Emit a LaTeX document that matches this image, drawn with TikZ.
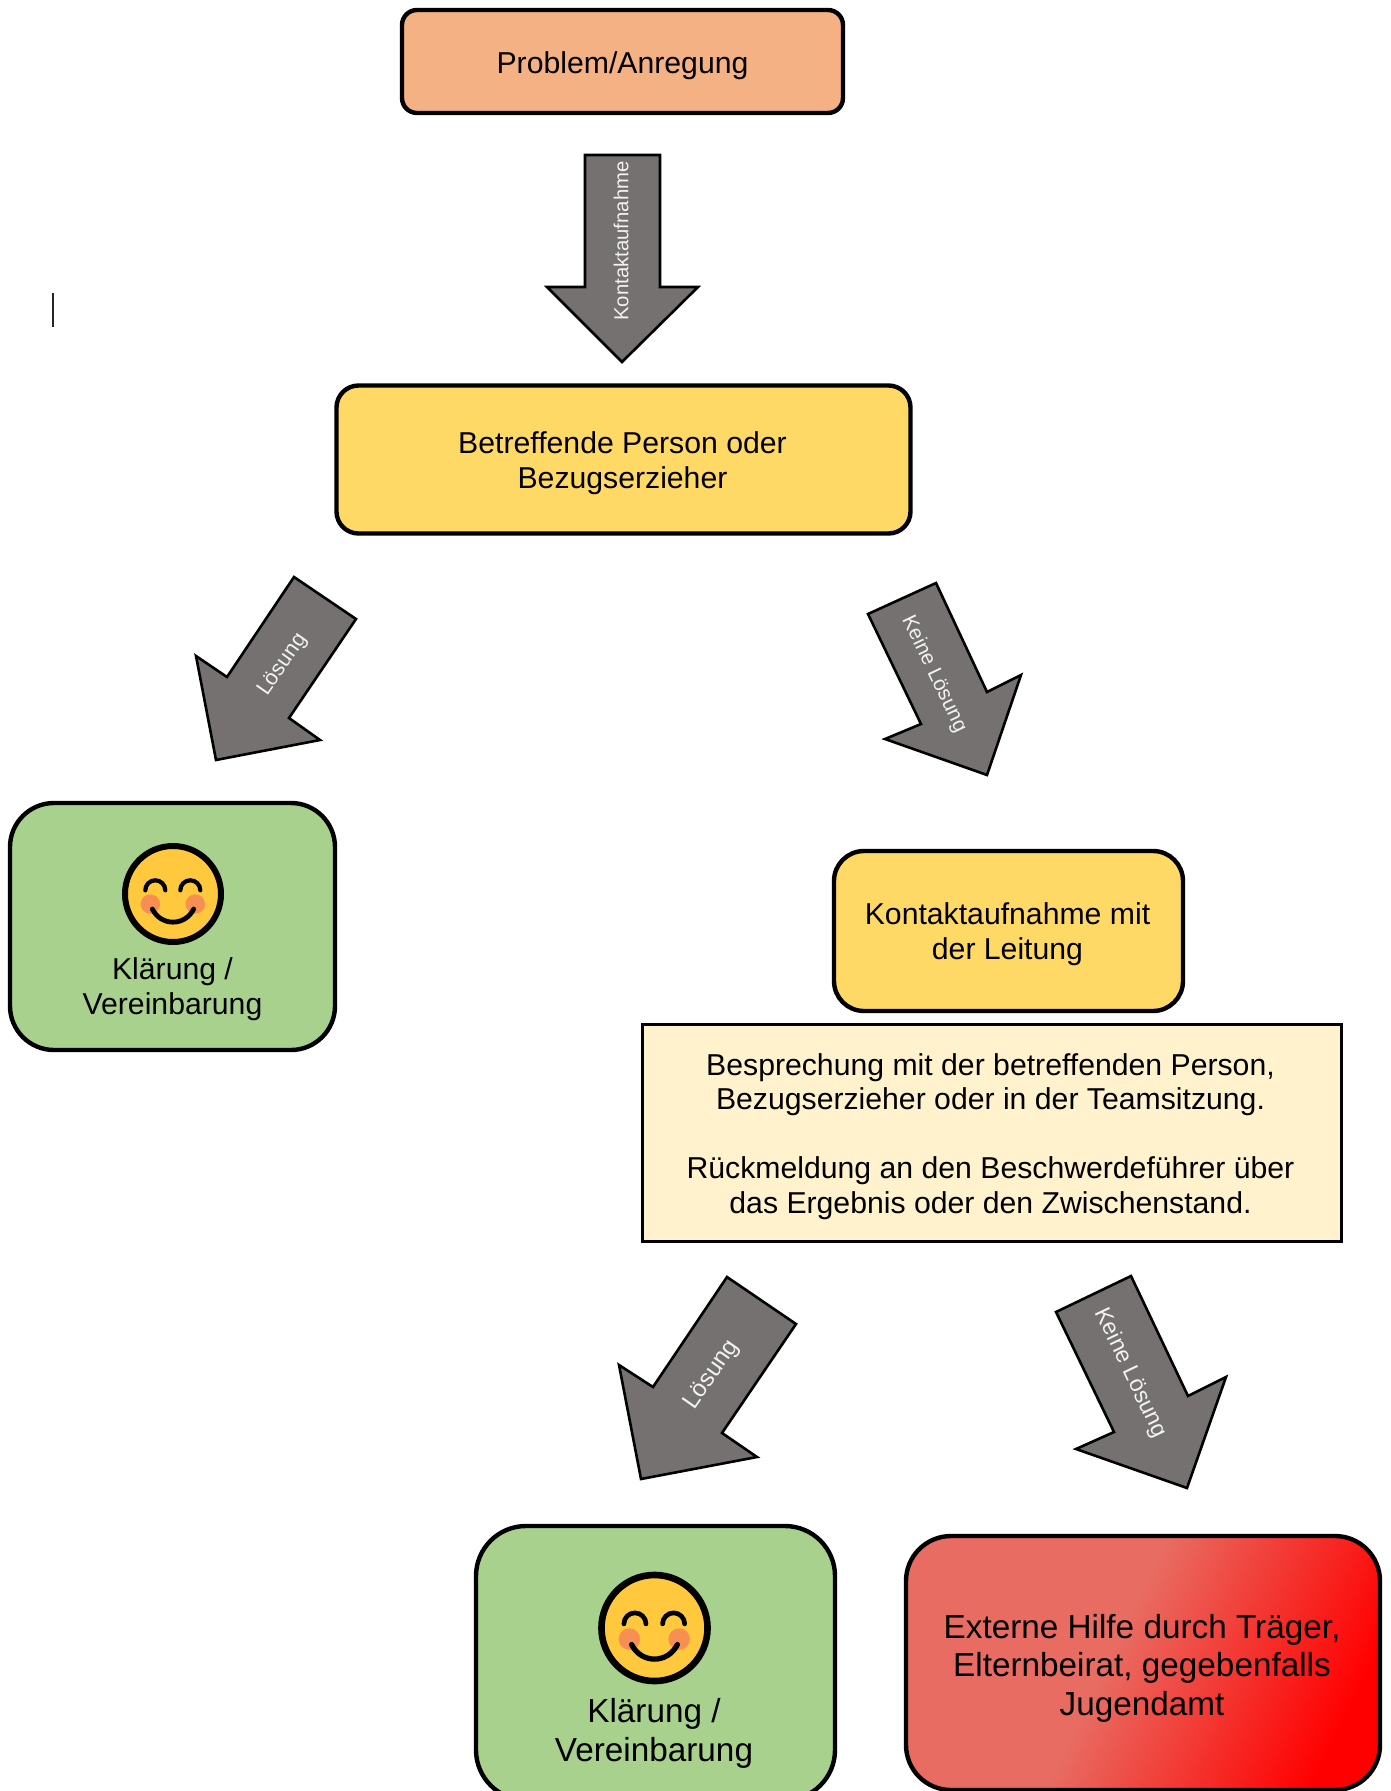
\documentclass[tikz,border=0pt]{standalone}
\usepackage{fontspec}
\setmainfont{Liberation Sans}
\definecolor{orangefill}{HTML}{F4B183}
\definecolor{yellowfill}{HTML}{FFD966}
\definecolor{greenfill}{HTML}{A9D18E}
\definecolor{notefill}{HTML}{FFF2CC}
\definecolor{redbase}{HTML}{E86C62}
\definecolor{arrowfill}{HTML}{757171}
\definecolor{arrowtext}{HTML}{F2F2F2}
\definecolor{smileyfill}{HTML}{FFC83D}
\definecolor{cheekfill}{HTML}{F78F52}
\tikzset{
  x=1pt,y=-1pt,
  boxshape/.style={draw=black,line width=4.4pt,rounded corners=#1,rectangle,inner sep=0pt},
  notebox/.style={draw=black,line width=3pt,fill=notefill,rectangle,inner sep=0pt},
  textlabel/.style={inner sep=0pt,align=center,text=black},
  bodytext/.style={textlabel,font=\fontsize{30.2}{34.5}\selectfont},
  bigtext/.style={textlabel,font=\fontsize{33.3}{39}\selectfont},
  redtext/.style={textlabel,font=\fontsize{33.3}{38.5}\selectfont},
  blockarrow/.style={draw=black,line width=2.6pt,fill=arrowfill,line join=miter},
  arrowlabel/.style={inner sep=0pt,text=arrowtext,font=\fontsize{#1}{#1}\selectfont},
}
\newcommand{\smileyface}[3]{%
  \begin{scope}[shift={(#1,#2)},x=#3pt,y=-#3pt]
    \draw[draw=black,fill=smileyfill,line width=#3*6pt] (0,0) circle (48);
    \fill[cheekfill] (-22.7,10) circle (9.7);
    \fill[cheekfill] (22.3,10) circle (9.7);
    \draw[line width=#3*4.2pt,line cap=round] (-27.7,-3.7) arc[start angle=180,end angle=0,x radius=10,y radius=-10];
    \draw[line width=#3*4.2pt,line cap=round] (7.3,-3.7) arc[start angle=180,end angle=0,x radius=10,y radius=-10];
    \draw[line width=#3*4.8pt,line cap=round] (-20.7,15) .. controls (-12,32.5) and (12,32.5) .. (20.7,15);
  \end{scope}}
\begin{document}
\begin{tikzpicture}
\useasboundingbox (0,0) rectangle (1391,1791);
% boxes
\node[boxshape=15pt,fill=orangefill,minimum width=441pt,minimum height=103pt] (problem) at (622.5,61.5) {};
\node[bodytext] (problemtext) at (622.5,66) {Problem/Anregung};
\node[boxshape=22pt,fill=yellowfill,minimum width=574pt,minimum height=148pt] (person) at (623.5,459.5) {};
\node[bodytext] (persontext) at (622.5,463) {Betreffende Person oder\\Bezugserzieher};
\node[boxshape=44pt,fill=greenfill,minimum width=325pt,minimum height=247pt] (green1) at (172.5,926.5) {};
\node[bodytext] (green1text) at (172.5,989) {Klärung /\\Vereinbarung};
\node[boxshape=30pt,fill=yellowfill,minimum width=349pt,minimum height=160pt] (leitung) at (1008.5,931) {};
\node[bodytext] (leitungtext) at (1007.5,934) {Kontaktaufnahme mit\\der Leitung};
\node[notebox,minimum width=699pt,minimum height=217pt] (note) at (991.5,1132.5) {};
\node[bodytext] (notetext) at (990.5,1136.5) {Besprechung mit der betreffenden Person,\\Bezugserzieher oder in der Teamsitzung.\\[34.5pt]Rückmeldung an den Beschwerdeführer über\\das Ergebnis oder den Zwischenstand.};
\node[boxshape=50pt,fill=greenfill,minimum width=359pt,minimum height=274pt] (green2) at (655.5,1663) {};
\node[bigtext] (green2text) at (654,1733) {Klärung /\\Vereinbarung};
% red box with its diagonal gradient
\begin{scope}
  \clip[rounded corners=45pt] (906,1536) rectangle (1380,1790);
  \fill[redbase] (906,1536) rectangle (1380,1790);
  \begin{scope}[transform canvas={shift={(1143,1662)},rotate=-26}]
    \fill[red] (204,-500) rectangle (700,500);
    \shade[left color=redbase,right color=red] (-32,-500) rectangle (205,500);
  \end{scope}
\end{scope}
\node[boxshape=45pt,minimum width=474pt,minimum height=254pt] (external) at (1143,1663) {};
\node[redtext] (externaltext) at (1142,1668) {Externe Hilfe durch Träger,\\Elternbeirat, gegebenfalls\\Jugendamt};
% smileys
\smileyface{173}{894}{1}
\smileyface{654.5}{1628}{1.105}
% block arrows
\draw[blockarrow] (585,155) -- (660,155) -- (660,287) -- (698,287) -- (622,362) -- (547,287) -- (585,287) -- cycle;
\node[arrowlabel=20.3,rotate=90] (a1text) at (621,241) {Kontaktaufnahme};
\draw[blockarrow] (294,577) -- (356,619) -- (289,718) -- (320,740) -- (216,760) -- (196,656) -- (227,677) -- cycle;
\node[arrowlabel=21.5,rotate=55] (a2text) at (283,665) {Lösung};
\draw[blockarrow] (936,583) -- (868,614) -- (921,724) -- (885,739) -- (987,775) -- (1021,675) -- (987,692) -- cycle;
\node[arrowlabel=20.7,rotate=-64.5] (a3text) at (934,674) {Keine Lösung};
\draw[blockarrow] (727,1277) -- (796,1324) -- (722,1433) -- (757,1457) -- (641,1479) -- (619,1365) -- (653,1387) -- cycle;
\node[arrowlabel=24,rotate=55] (a4text) at (712,1375) {Lösung};
\draw[blockarrow] (1131,1276) -- (1056,1312) -- (1114,1432) -- (1076,1449) -- (1187,1488) -- (1226,1377) -- (1188,1396) -- cycle;
\node[arrowlabel=23,rotate=-64.5] (a5text) at (1130.5,1373) {Keine Lösung};
% text cursor
\coordinate (cursortop) at (53,293);
\coordinate (cursorbottom) at (53,327);
\draw[line width=1.6pt,black!85] (cursortop) -- (cursorbottom);
\end{tikzpicture}
\end{document}
